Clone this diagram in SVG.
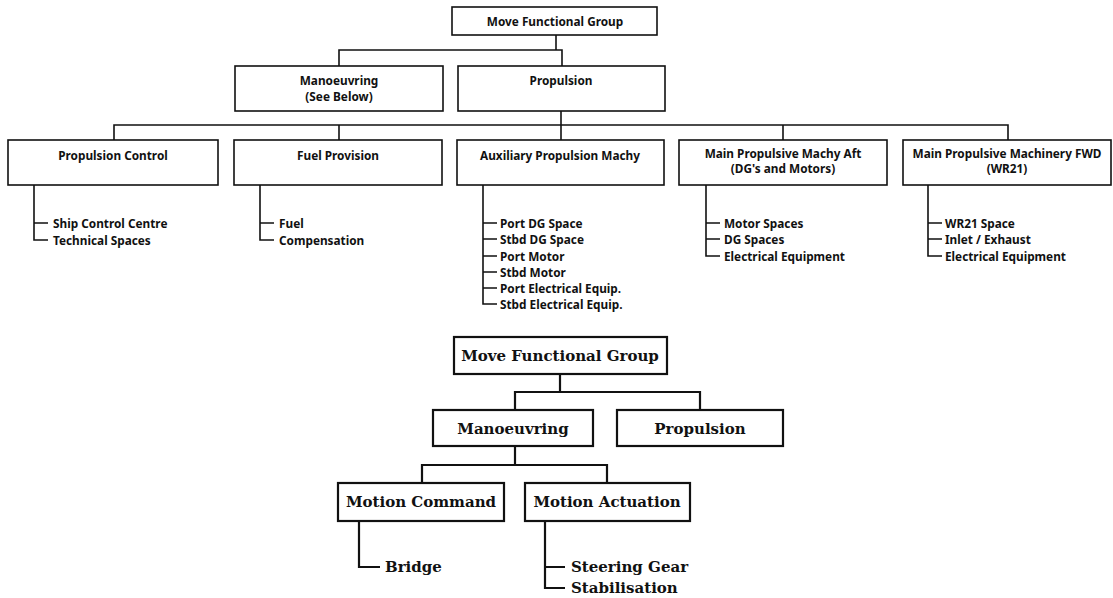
<svg xmlns="http://www.w3.org/2000/svg" width="1113" height="598" viewBox="0 0 1113 598">
  <style>
    .bg { fill: #ffffff; }
    .box { fill: #ffffff; stroke: #111; stroke-width: 1.6; }
    .box2 { fill: #ffffff; stroke: #111; stroke-width: 2.2; }
    .ln { fill: none; stroke: #111; stroke-width: 1.6; }
    .ln2 { fill: none; stroke: #111; stroke-width: 2.2; }
    .t { font-family: "Noto Sans", "DejaVu Sans", sans-serif; font-weight: bold; font-size: 11.8px; fill: #111; }
    .c { text-anchor: middle; }
    .s { font-family: "DejaVu Serif", "Liberation Serif", serif; font-weight: bold; font-size: 15px; fill: #111; }
  </style>
  <rect class="bg" x="0" y="0" width="1113" height="598"/>

  <!-- Upper tree: connectors -->
  <g id="connectors-upper">
    <path class="ln" d="M556,35 V50"/>
    <path class="ln" d="M339,66 V50 H562 V66"/>
    <path class="ln" d="M561,111 V125"/>
    <path class="ln" d="M114,140 V125 H1008 V140"/>
    <path class="ln" d="M339,125 V140"/>
    <path class="ln" d="M561,125 V140"/>
    <path class="ln" d="M783,125 V140"/>
    <!-- leaf lists -->
    <path class="ln" d="M34,185 V240 H48 M34,223 H48"/>
    <path class="ln" d="M260,185 V240 H274 M260,223 H274"/>
    <path class="ln" d="M483,185 V304 H497 M483,223 H497 M483,239 H497 M483,256 H497 M483,272 H497 M483,288 H497"/>
    <path class="ln" d="M706,185 V256 H720 M706,223 H720 M706,239 H720"/>
    <path class="ln" d="M928,185 V256 H942 M928,223 H942 M928,239 H942"/>
  </g>

  <!-- Upper tree: nodes -->
  <g id="move-top">
    <rect class="box" x="452" y="7" width="205" height="28"/>
    <text class="t c" x="555" y="25.5">Move Functional Group</text>
  </g>
  <g id="manoeuvring-top">
    <rect class="box" x="235" y="66" width="208" height="45"/>
    <text class="t c" x="339" y="84.5">Manoeuvring</text>
    <text class="t c" x="339" y="100.5">(See Below)</text>
  </g>
  <g id="propulsion-top">
    <rect class="box" x="458" y="66" width="207" height="45"/>
    <text class="t c" x="561" y="84.5">Propulsion</text>
  </g>
  <g id="propulsion-control">
    <rect class="box" x="8" y="140" width="210" height="45"/>
    <text class="t c" x="113" y="159.5">Propulsion Control</text>
    <text class="t" x="53" y="227.5">Ship Control Centre</text>
    <text class="t" x="53" y="244.5">Technical Spaces</text>
  </g>
  <g id="fuel-provision">
    <rect class="box" x="234" y="140" width="208" height="45"/>
    <text class="t c" x="338" y="159.5">Fuel Provision</text>
    <text class="t" x="279" y="227.5">Fuel</text>
    <text class="t" x="279" y="244.5">Compensation</text>
  </g>
  <g id="auxiliary-propulsion">
    <rect class="box" x="457" y="140" width="207" height="45"/>
    <text class="t c" x="560" y="159.5">Auxiliary Propulsion Machy</text>
    <text class="t" x="500" y="227.5">Port DG Space</text>
    <text class="t" x="500" y="243.5">Stbd DG Space</text>
    <text class="t" x="500" y="260.5">Port Motor</text>
    <text class="t" x="500" y="276.5">Stbd Motor</text>
    <text class="t" x="500" y="292.5">Port Electrical Equip.</text>
    <text class="t" x="500" y="308.5">Stbd Electrical Equip.</text>
  </g>
  <g id="main-propulsive-aft">
    <rect class="box" x="679" y="140" width="208" height="45"/>
    <text class="t c" x="783" y="158">Main Propulsive Machy Aft</text>
    <text class="t c" x="783" y="172.5">(DG's and Motors)</text>
    <text class="t" x="724" y="227.5">Motor Spaces</text>
    <text class="t" x="724" y="243.5">DG Spaces</text>
    <text class="t" x="724" y="260.5">Electrical Equipment</text>
  </g>
  <g id="main-propulsive-fwd">
    <rect class="box" x="903" y="140" width="208" height="45"/>
    <text class="t c" x="1007" y="158">Main Propulsive Machinery FWD</text>
    <text class="t c" x="1007" y="172.5">(WR21)</text>
    <text class="t" x="945" y="227.5">WR21 Space</text>
    <text class="t" x="945" y="243.5">Inlet / Exhaust</text>
    <text class="t" x="945" y="260.5">Electrical Equipment</text>
  </g>

  <!-- Lower tree: connectors -->
  <g id="connectors-lower">
    <path class="ln2" d="M560,374 V392"/>
    <path class="ln2" d="M515,410 V392 H700 V410"/>
    <path class="ln2" d="M515,446 V465"/>
    <path class="ln2" d="M422,483 V465 H607 V483"/>
    <path class="ln2" d="M359,521 V567 H380"/>
    <path class="ln2" d="M545,521 V588 H565 M545,567 H565"/>
  </g>

  <!-- Lower tree: nodes -->
  <g id="move-bottom">
    <rect class="box2" x="454" y="337" width="213" height="37"/>
    <text class="s c" x="560" y="361">Move Functional Group</text>
  </g>
  <g id="manoeuvring-bottom">
    <rect class="box2" x="433" y="410" width="160" height="36"/>
    <text class="s c" x="513" y="434">Manoeuvring</text>
  </g>
  <g id="propulsion-bottom">
    <rect class="box2" x="617" y="410" width="166" height="36"/>
    <text class="s c" x="700" y="434">Propulsion</text>
  </g>
  <g id="motion-command">
    <rect class="box2" x="338" y="483" width="166" height="38"/>
    <text class="s c" x="421" y="507">Motion Command</text>
    <text class="s" x="385" y="572">Bridge</text>
  </g>
  <g id="motion-actuation">
    <rect class="box2" x="525" y="483" width="165" height="38"/>
    <text class="s c" x="607" y="507">Motion Actuation</text>
    <text class="s" x="571" y="572">Steering Gear</text>
    <text class="s" x="571" y="593">Stabilisation</text>
  </g>
</svg>
